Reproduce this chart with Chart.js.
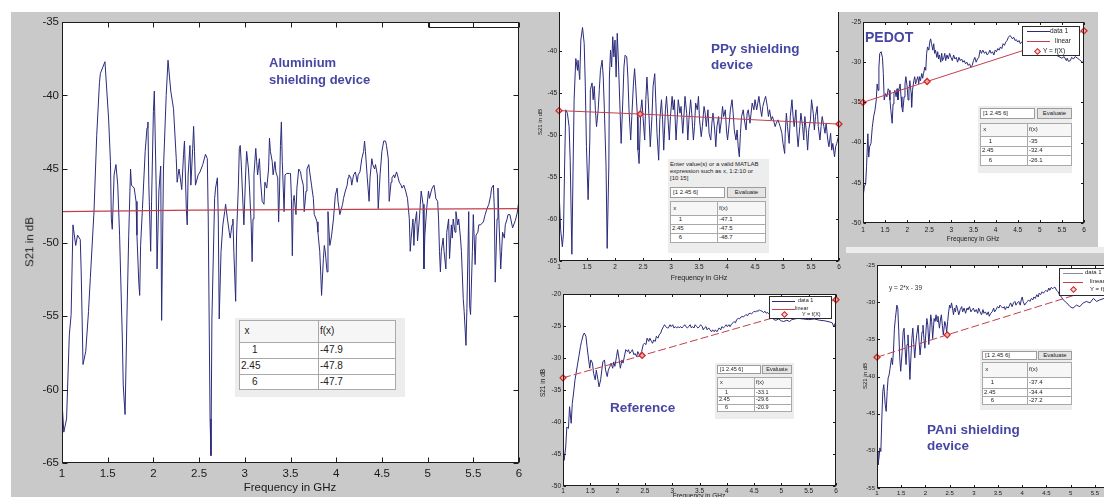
<!DOCTYPE html>
<html>
<head>
<meta charset="utf-8">
<title>S21 shielding measurements</title>
<script src="https://cdn.jsdelivr.net/npm/chart.js@4.4.1/dist/chart.umd.min.js"></script>
<style>
  html, body { margin: 0; padding: 0; background: #fff; }
  #page { position: relative; width: 1104px; height: 497px; overflow: hidden; background: #fff;
          font-family: "Liberation Sans", Arial, sans-serif; }
  .gray { position: absolute; background: #c9c9c9; z-index: 0; }
</style>
</head>
<body>
<div id="page">
  <div class="gray" style="left:11px;top:12px;width:511px;height:485px;"></div>
  <div class="gray" style="left:522px;top:12px;width:324px;height:485px;"></div>
  <div class="gray" style="left:846px;top:12px;width:252px;height:235px;"></div>
  <div class="gray" style="left:846px;top:247px;width:258px;height:6px;background:#ececec;"></div>
  <div class="gray" style="left:846px;top:253px;width:258px;height:244px;"></div>
</div>
<script>
// ---- shared tick values ----
const freqTicks = [1, 1.5, 2, 2.5, 3, 3.5, 4, 4.5, 5, 5.5, 6];
const aluminiumTicksY = [-65, -60, -55, -50, -45, -40, -35];
const ppyTicksY = [-65, -60, -55, -50, -45, -40];
const pedotTicksY = [-50, -45, -40, -35, -30, -25];
const referenceTicksY = [-50, -45, -40, -35, -30, -25, -20];
const paniTicksY = [-55, -50, -45, -40, -35, -30, -25];

// ---- linear fit evaluated at these frequencies (GHz) ----
const evalPoints = [1, 2.45, 6];
const aluminiumFit = [-47.9, -47.8, -47.7];
const ppyFit = [-47.1, -47.5, -48.7];
const pedotFit = [-35, -32.4, -26.1];
const referenceFit = [-33.1, -29.6, -20.9];
const paniFit = [-37.4, -34.4, -27.2];

// ---- measured S21 traces: [frequency GHz, S21 dB] ----
const aluminiumTrace = [
[1.00,-60.8],[1.02,-62.9],[1.05,-62.0],[1.08,-56.3],[1.10,-54.9],[1.12,-48.8],[1.15,-50.2],[1.17,-49.5],[1.20,-49.8],[1.21,-52.0],
[1.23,-58.3],[1.26,-57.4],[1.29,-54.7],[1.31,-52.4],[1.35,-47.9],[1.38,-42.7],[1.41,-39.1],[1.42,-38.5],[1.47,-37.7],[1.51,-41.6],
[1.53,-44.5],[1.54,-48.4],[1.55,-49.1],[1.57,-45.4],[1.59,-44.7],[1.61,-46.1],[1.63,-49.5],[1.66,-56.5],[1.67,-59.7],[1.69,-61.7],
[1.71,-55.2],[1.73,-49.5],[1.75,-45.0],[1.76,-46.1],[1.79,-46.3],[1.81,-47.2],[1.82,-49.5],[1.84,-52.7],[1.85,-53.6],[1.86,-50.2],
[1.88,-47.7],[1.91,-43.8],[1.93,-42.2],[1.94,-41.8],[1.95,-46.1],[1.97,-50.6],[1.98,-47.2],[2.00,-41.1],[2.01,-39.7],[2.03,-46.1],
[2.04,-51.8],[2.06,-46.5],[2.08,-44.8],[2.09,-55.3],[2.11,-45.0],[2.14,-40.0],[2.16,-37.6],[2.19,-39.7],[2.22,-40.9],[2.25,-44.3],
[2.26,-45.9],[2.28,-45.0],[2.29,-45.4],[2.31,-46.4],[2.33,-44.0],[2.34,-43.1],[2.36,-47.7],[2.37,-48.8],[2.38,-45.4],[2.40,-43.4],
[2.41,-46.1],[2.43,-43.6],[2.44,-42.1],[2.45,-43.8],[2.46,-46.1],[2.49,-45.4],[2.51,-45.2],[2.54,-44.7],[2.57,-44.0],[2.59,-44.3],
[2.60,-48.4],[2.62,-62.0],[2.63,-64.5],[2.64,-55.2],[2.67,-47.0],[2.68,-46.3],[2.70,-45.6],[2.71,-48.4],[2.72,-55.2],[2.74,-50.6],
[2.76,-48.8],[2.78,-47.9],[2.79,-47.4],[2.81,-48.4],[2.83,-49.3],[2.84,-49.7],[2.86,-48.8],[2.87,-48.4],[2.88,-50.6],[2.90,-54.0],
[2.91,-49.5],[2.93,-46.1],[2.94,-43.6],[2.95,-43.4],[2.96,-44.5],[2.98,-47.4],[2.99,-48.8],[3.01,-45.2],[3.02,-43.8],[3.04,-45.0],
[3.05,-46.1],[3.07,-48.8],[3.08,-51.3],[3.09,-48.4],[3.10,-45.4],[3.12,-43.6],[3.13,-44.5],[3.14,-45.4],[3.16,-44.3],[3.17,-45.6],
[3.19,-47.2],[3.21,-47.4],[3.22,-45.9],[3.24,-46.3],[3.26,-45.0],[3.27,-42.9],[3.28,-43.8],[3.30,-44.5],[3.31,-45.4],[3.33,-44.5],
[3.34,-45.2],[3.36,-45.6],[3.37,-48.6],[3.38,-46.5],[3.39,-43.4],[3.40,-41.8],[3.41,-44.5],[3.43,-47.9],[3.44,-45.4],[3.46,-45.3],
[3.49,-45.3],[3.50,-45.3],[3.51,-47.0],[3.52,-50.9],[3.53,-47.2],[3.54,-46.8],[3.56,-48.1],[3.57,-46.3],[3.59,-45.0],[3.61,-45.2],
[3.62,-45.6],[3.64,-46.1],[3.65,-47.9],[3.67,-46.5],[3.68,-45.0],[3.70,-44.7],[3.71,-45.2],[3.73,-46.1],[3.75,-47.0],[3.76,-48.1],
[3.78,-48.4],[3.79,-48.6],[3.80,-49.3],[3.82,-50.6],[3.83,-52.0],[3.84,-53.6],[3.86,-51.1],[3.87,-50.2],[3.88,-50.6],[3.90,-52.0],
[3.91,-47.9],[3.93,-50.2],[3.94,-49.9],[3.95,-49.5],[3.97,-48.4],[3.99,-46.8],[4.01,-46.3],[4.02,-47.2],[4.04,-48.1],[4.07,-47.4],
[4.08,-47.0],[4.10,-46.5],[4.12,-46.1],[4.13,-45.6],[4.14,-45.4],[4.16,-45.6],[4.17,-46.1],[4.19,-45.4],[4.21,-45.2],[4.23,-45.9],
[4.24,-45.4],[4.26,-45.2],[4.28,-44.3],[4.30,-43.8],[4.31,-43.1],[4.32,-43.8],[4.34,-45.6],[4.36,-47.2],[4.37,-45.6],[4.39,-44.3],
[4.40,-44.7],[4.42,-45.0],[4.43,-44.7],[4.45,-45.4],[4.46,-47.7],[4.48,-45.4],[4.50,-43.8],[4.52,-43.1],[4.54,-43.1],[4.55,-43.4],
[4.57,-44.3],[4.58,-47.2],[4.60,-45.9],[4.61,-45.6],[4.63,-45.4],[4.64,-45.6],[4.66,-45.2],[4.67,-45.4],[4.69,-45.9],[4.71,-46.1],
[4.72,-46.3],[4.74,-46.1],[4.76,-46.5],[4.78,-47.0],[4.80,-48.4],[4.81,-50.6],[4.82,-49.7],[4.84,-48.4],[4.85,-50.2],[4.86,-48.8],
[4.88,-47.9],[4.89,-49.9],[4.91,-48.4],[4.92,-47.4],[4.93,-46.5],[4.95,-47.4],[4.96,-51.8],[4.97,-49.5],[4.99,-47.7],[5.01,-46.5],
[5.02,-47.0],[5.04,-46.5],[5.05,-46.3],[5.07,-46.1],[5.08,-46.5],[5.09,-47.0],[5.11,-47.2],[5.12,-48.4],[5.13,-50.6],[5.14,-52.0],
[5.15,-50.6],[5.17,-49.7],[5.18,-50.6],[5.20,-51.8],[5.21,-49.3],[5.23,-48.4],[5.24,-51.1],[5.26,-48.8],[5.27,-49.7],[5.28,-48.4],
[5.30,-49.3],[5.31,-47.9],[5.33,-48.8],[5.34,-48.4],[5.36,-49.7],[5.37,-50.6],[5.39,-53.8],[5.40,-54.7],[5.42,-57.0],[5.43,-54.5],
[5.45,-47.9],[5.46,-54.3],[5.47,-54.9],[5.49,-50.6],[5.50,-48.1],[5.52,-51.5],[5.53,-49.5],[5.55,-49.3],[5.56,-48.8],[5.58,-48.8],
[5.61,-48.6],[5.63,-48.1],[5.65,-47.7],[5.67,-47.4],[5.69,-46.8],[5.70,-46.3],[5.72,-46.1],[5.73,-47.7],[5.74,-52.7],[5.76,-48.4],
[5.77,-46.3],[5.78,-48.4],[5.80,-51.8],[5.81,-50.6],[5.82,-49.3],[5.84,-49.7],[5.85,-48.8],[5.87,-48.4],[5.88,-48.1],[5.90,-48.1],
[5.93,-49.0],[5.96,-48.5],[5.98,-48.0],[6.00,-47.1]
];

const ppyTrace = [
[1.00,-56.5],[1.03,-61.3],[1.06,-63.3],[1.08,-61.7],[1.10,-53.7],[1.12,-47.0],[1.15,-47.4],[1.18,-49.0],[1.20,-53.0],[1.23,-64.2],
[1.25,-54.5],[1.27,-45.8],[1.30,-40.9],[1.33,-42.3],[1.34,-41.1],[1.37,-43.4],[1.39,-38.7],[1.42,-37.2],[1.45,-39.1],[1.47,-44.2],
[1.49,-51.4],[1.52,-57.7],[1.55,-50.6],[1.56,-44.6],[1.59,-43.8],[1.61,-45.8],[1.63,-44.2],[1.65,-47.0],[1.67,-49.0],[1.70,-47.0],
[1.72,-44.6],[1.74,-42.3],[1.77,-41.1],[1.79,-43.1],[1.81,-47.0],[1.84,-53.7],[1.86,-63.5],[1.89,-53.7],[1.90,-43.1],[1.92,-39.9],
[1.94,-41.9],[1.96,-38.3],[1.98,-40.7],[2.00,-38.7],[2.02,-43.1],[2.04,-37.9],[2.06,-41.1],[2.09,-47.0],[2.11,-51.0],[2.14,-45.8],
[2.16,-41.9],[2.18,-40.5],[2.21,-40.7],[2.23,-43.1],[2.25,-47.0],[2.28,-50.6],[2.30,-47.8],[2.33,-43.8],[2.35,-42.1],[2.37,-44.2],
[2.40,-47.8],[2.41,-51.8],[2.43,-53.4],[2.46,-47.0],[2.48,-45.8],[2.50,-47.8],[2.53,-50.6],[2.55,-45.8],[2.57,-43.1],[2.59,-45.4],
[2.61,-48.2],[2.63,-51.4],[2.66,-47.8],[2.68,-44.2],[2.71,-42.7],[2.73,-46.2],[2.75,-49.8],[2.78,-53.0],[2.80,-48.2],[2.83,-45.8],
[2.85,-48.2],[2.87,-51.8],[2.90,-47.0],[2.92,-45.4],[2.94,-47.4],[2.97,-50.6],[2.99,-47.8],[3.02,-45.4],[3.04,-47.0],[3.06,-45.8],
[3.09,-50.6],[3.11,-48.2],[3.13,-45.8],[3.16,-47.4],[3.18,-46.6],[3.21,-49.8],[3.23,-47.8],[3.25,-45.4],[3.28,-47.4],[3.30,-50.6],
[3.32,-48.2],[3.35,-45.8],[3.37,-47.4],[3.40,-50.6],[3.42,-49.0],[3.44,-46.2],[3.47,-47.0],[3.49,-45.4],[3.51,-48.2],[3.54,-50.2],
[3.56,-49.0],[3.59,-46.6],[3.61,-47.4],[3.63,-49.0],[3.66,-47.0],[3.68,-49.8],[3.71,-50.6],[3.73,-48.6],[3.75,-47.4],[3.78,-49.4],
[3.80,-51.4],[3.82,-49.0],[3.85,-47.8],[3.87,-49.8],[3.90,-48.2],[3.92,-46.6],[3.94,-47.8],[3.97,-47.0],[3.99,-49.4],[4.01,-50.6],
[4.04,-48.6],[4.06,-47.0],[4.09,-45.8],[4.11,-47.4],[4.13,-49.4],[4.16,-50.6],[4.18,-49.4],[4.20,-51.4],[4.22,-52.6],[4.24,-49.8],
[4.26,-47.8],[4.29,-47.0],[4.31,-48.2],[4.34,-49.4],[4.36,-47.4],[4.38,-47.0],[4.41,-48.6],[4.43,-47.4],[4.45,-46.2],[4.48,-47.0],
[4.50,-45.8],[4.53,-47.0],[4.55,-46.2],[4.57,-45.4],[4.60,-47.0],[4.62,-47.8],[4.64,-46.6],[4.67,-45.8],[4.69,-45.4],[4.72,-46.6],
[4.74,-47.8],[4.76,-47.0],[4.79,-48.2],[4.81,-47.8],[4.83,-48.2],[4.86,-49.0],[4.88,-48.6],[4.91,-48.2],[4.93,-48.6],[4.95,-49.0],
[4.98,-49.8],[5.00,-51.0],[5.03,-52.2],[5.04,-49.8],[5.06,-47.4],[5.08,-49.0],[5.11,-51.0],[5.13,-47.8],[5.16,-45.8],[5.18,-47.8],
[5.20,-49.0],[5.23,-47.0],[5.25,-49.8],[5.27,-51.4],[5.30,-49.0],[5.32,-47.4],[5.35,-49.0],[5.37,-50.6],[5.39,-47.8],[5.42,-49.8],
[5.44,-51.8],[5.46,-49.4],[5.49,-48.2],[5.51,-45.8],[5.54,-47.4],[5.56,-49.4],[5.58,-47.8],[5.61,-46.6],[5.63,-49.0],[5.66,-50.6],
[5.68,-49.0],[5.70,-47.8],[5.73,-49.0],[5.75,-49.8],[5.77,-48.6],[5.80,-50.6],[5.82,-51.4],[5.85,-49.8],[5.87,-51.8],[5.89,-51.0],
[5.92,-52.6],[5.94,-51.4],[5.96,-51.0],[5.99,-50.2],[6.00,-50.2]
];

const pedotTrace = [
[1.00,-46.8],[1.03,-45.5],[1.06,-45.1],[1.08,-43.0],[1.11,-38.9],[1.13,-41.8],[1.15,-40.5],[1.18,-40.1],[1.21,-38.1],[1.24,-36.8],
[1.27,-36.0],[1.30,-34.7],[1.32,-32.7],[1.34,-33.5],[1.36,-30.6],[1.38,-28.9],[1.41,-28.7],[1.44,-29.4],[1.46,-31.4],[1.48,-34.7],
[1.51,-33.9],[1.54,-34.3],[1.57,-33.3],[1.59,-33.5],[1.61,-34.7],[1.63,-36.0],[1.66,-37.6],[1.68,-35.2],[1.70,-33.9],[1.72,-33.5],
[1.75,-34.3],[1.77,-33.3],[1.79,-34.7],[1.81,-33.5],[1.84,-32.7],[1.86,-34.3],[1.88,-35.6],[1.90,-36.2],[1.93,-34.3],[1.95,-32.7],
[1.97,-31.8],[2.00,-33.1],[2.02,-34.7],[2.04,-33.5],[2.06,-32.3],[2.09,-33.9],[2.10,-35.6],[2.12,-33.5],[2.15,-32.3],[2.17,-31.8],
[2.19,-32.7],[2.21,-32.3],[2.24,-31.8],[2.26,-32.7],[2.28,-31.8],[2.30,-32.3],[2.33,-31.4],[2.35,-32.0],[2.37,-31.4],[2.40,-30.6],
[2.42,-31.0],[2.44,-28.9],[2.46,-28.1],[2.49,-28.5],[2.51,-27.5],[2.53,-27.1],[2.55,-27.7],[2.58,-28.5],[2.60,-27.7],[2.62,-28.9],
[2.64,-28.5],[2.67,-29.4],[2.69,-28.7],[2.71,-29.6],[2.73,-29.1],[2.76,-30.0],[2.78,-28.9],[2.80,-29.8],[2.83,-29.4],[2.85,-28.9],
[2.87,-29.8],[2.90,-29.1],[2.93,-29.6],[2.96,-28.9],[2.99,-29.4],[3.02,-29.8],[3.05,-29.1],[3.08,-29.6],[3.11,-29.4],[3.14,-30.0],
[3.17,-29.4],[3.20,-29.8],[3.23,-29.6],[3.26,-30.0],[3.29,-29.8],[3.32,-30.2],[3.35,-30.0],[3.38,-30.4],[3.41,-30.2],[3.44,-30.6],
[3.47,-30.4],[3.50,-29.8],[3.53,-29.4],[3.56,-30.0],[3.59,-29.6],[3.62,-29.4],[3.65,-28.5],[3.68,-28.9],[3.71,-28.5],[3.75,-28.9],
[3.78,-28.7],[3.81,-29.1],[3.84,-28.9],[3.87,-28.5],[3.90,-28.9],[3.93,-28.7],[3.96,-29.1],[3.99,-28.5],[4.02,-28.7],[4.05,-28.3],
[4.08,-28.5],[4.11,-28.1],[4.14,-28.3],[4.17,-27.7],[4.20,-27.9],[4.23,-27.5],[4.26,-27.3],[4.29,-26.9],[4.32,-26.7],[4.35,-26.8],
[4.38,-27.1],[4.41,-26.9],[4.44,-27.3],[4.47,-27.2],[4.50,-27.5],[4.53,-27.3],[4.56,-27.7],[4.59,-27.5],[4.61,-27.6],[4.65,-27.6],
[4.70,-27.8],[4.80,-28.0],[4.90,-28.2],[5.00,-28.4],[5.10,-28.6],[5.20,-28.8],[5.30,-29.0],[5.40,-29.2],[5.50,-29.5],[5.55,-29.3],
[5.60,-29.8],[5.62,-29.5],[5.65,-29.9],[5.69,-29.8],[5.72,-29.4],[5.76,-29.6],[5.80,-29.3],[5.85,-29.5],[5.90,-29.7],[5.94,-29.9],
[5.97,-30.1],[6.00,-29.5]
];

const referenceTrace = [
[1.00,-44.4],[1.02,-46.0],[1.05,-43.9],[1.07,-40.8],[1.10,-41.0],[1.12,-37.6],[1.15,-40.2],[1.17,-37.1],[1.20,-35.0],[1.22,-33.4],
[1.24,-32.4],[1.27,-30.8],[1.29,-29.8],[1.32,-28.2],[1.34,-27.4],[1.37,-26.4],[1.39,-26.1],[1.42,-26.6],[1.44,-28.2],[1.47,-30.3],
[1.49,-31.6],[1.51,-30.3],[1.54,-30.8],[1.56,-32.4],[1.59,-33.4],[1.61,-31.9],[1.64,-33.4],[1.66,-34.5],[1.69,-33.4],[1.71,-31.9],
[1.73,-30.6],[1.76,-30.3],[1.78,-31.9],[1.81,-32.9],[1.83,-31.9],[1.86,-31.3],[1.88,-30.8],[1.91,-31.6],[1.93,-30.6],[1.95,-31.3],
[1.98,-29.8],[2.00,-28.7],[2.03,-30.3],[2.05,-31.6],[2.08,-30.3],[2.10,-30.8],[2.13,-29.5],[2.15,-28.7],[2.18,-29.0],[2.20,-28.7],
[2.22,-29.3],[2.25,-29.0],[2.27,-28.7],[2.30,-29.5],[2.32,-29.3],[2.35,-29.8],[2.37,-29.0],[2.40,-29.5],[2.42,-29.3],[2.44,-29.0],
[2.47,-27.9],[2.49,-27.7],[2.52,-27.9],[2.54,-26.9],[2.57,-27.4],[2.59,-26.9],[2.62,-27.4],[2.64,-27.7],[2.66,-27.2],[2.69,-27.4],
[2.71,-26.6],[2.74,-26.9],[2.76,-26.4],[2.79,-26.1],[2.81,-25.6],[2.84,-25.1],[2.86,-24.8],[2.88,-25.1],[2.91,-25.3],[2.93,-25.3],
[2.96,-24.8],[2.98,-25.1],[3.01,-24.8],[3.03,-25.3],[3.06,-25.1],[3.08,-25.3],[3.11,-25.1],[3.13,-25.3],[3.15,-25.1],[3.18,-25.3],
[3.20,-25.1],[3.23,-24.8],[3.25,-25.1],[3.28,-25.3],[3.30,-25.1],[3.33,-24.8],[3.35,-25.3],[3.37,-25.1],[3.40,-25.3],[3.42,-24.8],
[3.45,-25.1],[3.47,-25.3],[3.50,-25.1],[3.52,-24.8],[3.55,-25.1],[3.57,-25.6],[3.59,-25.3],[3.62,-25.1],[3.64,-25.6],[3.67,-25.3],
[3.69,-25.6],[3.72,-25.9],[3.74,-25.6],[3.77,-25.9],[3.79,-25.6],[3.82,-25.9],[3.84,-25.6],[3.86,-25.3],[3.89,-25.6],[3.91,-25.1],
[3.94,-25.3],[3.96,-25.1],[3.99,-24.8],[4.01,-25.1],[4.04,-24.8],[4.06,-25.1],[4.08,-24.8],[4.11,-24.5],[4.13,-24.3],[4.16,-24.5],
[4.18,-24.0],[4.21,-23.8],[4.23,-23.9],[4.26,-23.6],[4.28,-23.5],[4.30,-23.6],[4.33,-23.4],[4.35,-23.2],[4.38,-23.4],[4.40,-23.1],
[4.43,-23.0],[4.45,-23.1],[4.48,-22.9],[4.50,-22.7],[4.53,-22.8],[4.55,-22.6],[4.57,-22.7],[4.60,-22.5],[4.62,-22.6],[4.65,-22.7],
[4.67,-22.9],[4.70,-22.7],[4.72,-23.0],[4.75,-22.9],[4.77,-23.1],[4.80,-23.2],[4.86,-24.0],[4.90,-24.1],[4.95,-23.9],[5.00,-24.2],
[5.04,-24.3],[5.10,-24.1],[5.15,-24.3],[5.19,-24.0],[5.30,-23.8],[5.40,-23.9],[5.50,-24.0],[5.60,-23.9],[5.70,-24.1],[5.80,-24.2],
[5.90,-24.4],[5.93,-24.5],[5.96,-25.1],[6.00,-24.3]
];

const paniTrace = [
[1.00,-50.1],[1.02,-51.9],[1.04,-51.0],[1.06,-49.6],[1.08,-50.1],[1.10,-45.6],[1.12,-42.0],[1.14,-41.1],[1.17,-43.8],[1.19,-44.7],
[1.21,-42.0],[1.23,-40.2],[1.25,-39.8],[1.27,-38.9],[1.30,-37.5],[1.32,-38.4],[1.34,-36.6],[1.36,-33.5],[1.38,-32.2],[1.41,-30.4],
[1.43,-30.8],[1.45,-34.0],[1.47,-37.5],[1.49,-39.3],[1.52,-36.6],[1.54,-34.0],[1.56,-33.5],[1.58,-36.2],[1.60,-38.4],[1.62,-35.7],
[1.64,-34.4],[1.66,-37.1],[1.68,-40.4],[1.70,-37.5],[1.72,-34.9],[1.74,-33.5],[1.76,-35.7],[1.78,-37.5],[1.80,-35.7],[1.82,-34.4],
[1.85,-33.1],[1.87,-35.3],[1.89,-37.1],[1.91,-35.7],[1.93,-34.0],[1.95,-33.1],[1.97,-34.9],[1.99,-36.2],[2.01,-34.0],[2.03,-32.2],
[2.05,-33.1],[2.07,-35.7],[2.09,-34.0],[2.11,-31.7],[2.13,-32.6],[2.15,-34.9],[2.18,-32.2],[2.20,-32.6],[2.22,-31.7],[2.24,-32.6],
[2.26,-31.9],[2.29,-33.5],[2.31,-32.4],[2.33,-31.7],[2.35,-33.1],[2.37,-34.4],[2.40,-32.6],[2.42,-33.1],[2.44,-34.0],[2.46,-32.6],
[2.48,-31.3],[2.50,-30.4],[2.52,-30.8],[2.54,-30.1],[2.56,-30.8],[2.58,-31.7],[2.60,-30.8],[2.62,-31.3],[2.64,-30.4],[2.66,-30.8],
[2.69,-31.7],[2.72,-31.0],[2.75,-30.6],[2.77,-31.3],[2.80,-30.8],[2.83,-31.5],[2.86,-30.8],[2.88,-31.0],[2.91,-30.6],[2.94,-31.3],
[2.97,-31.0],[2.99,-30.8],[3.02,-31.3],[3.05,-31.0],[3.08,-31.5],[3.10,-30.8],[3.13,-31.3],[3.16,-31.7],[3.19,-31.0],[3.21,-31.5],
[3.24,-31.3],[3.27,-31.7],[3.30,-31.3],[3.32,-31.9],[3.35,-31.5],[3.38,-31.3],[3.41,-30.8],[3.43,-31.3],[3.46,-31.0],[3.49,-30.6],
[3.52,-30.8],[3.54,-30.4],[3.57,-30.6],[3.60,-30.8],[3.63,-30.6],[3.65,-31.0],[3.68,-30.6],[3.71,-30.8],[3.74,-30.4],[3.76,-30.1],
[3.79,-30.6],[3.82,-30.1],[3.85,-29.9],[3.87,-30.4],[3.90,-30.1],[3.93,-29.9],[3.96,-30.4],[3.98,-29.7],[4.00,-29.3],[4.02,-29.9],
[4.05,-30.4],[4.08,-30.1],[4.11,-29.9],[4.13,-29.7],[4.16,-29.9],[4.19,-29.5],[4.22,-29.7],[4.24,-29.3],[4.27,-29.5],[4.30,-29.0],
[4.33,-29.3],[4.35,-28.8],[4.38,-29.0],[4.41,-28.6],[4.44,-28.8],[4.46,-28.6],[4.49,-28.4],[4.52,-28.6],[4.55,-28.1],[4.57,-28.4],
[4.60,-28.0],[4.63,-28.2],[4.66,-28.0],[4.68,-28.0],[4.71,-28.4],[4.74,-28.6],[4.77,-29.0],[4.81,-29.3],[4.85,-29.7],[4.92,-30.1],
[4.99,-30.6],[5.05,-30.8],[5.12,-30.4],[5.19,-30.6],[5.26,-30.1],[5.33,-29.9],[5.40,-30.1],[5.47,-29.5],[5.54,-29.9],[5.60,-29.7],
[5.69,-29.5],[5.75,-29.6],[5.85,-29.4],[5.95,-29.2],[6.00,-29.3]
];

// ---- drawing ----
const FONT = '"Liberation Sans", Arial, Helvetica, sans-serif';
const NAVY = '#2b2b7c';
const FIT_RED = '#c2404c';
const MARK_RED = '#d02828';
const TITLE_BLUE = '#4747a3';
const page = document.getElementById('page');
Chart.defaults.font.family = FONT;

// white axes background, box outline and inward tick marks on all four sides
const framePlugin = {
  id: 'frame',
  beforeDraw(chart) {
    const a = chart.chartArea, ctx = chart.ctx;
    ctx.save();
    ctx.fillStyle = '#ffffff';
    ctx.fillRect(a.left, a.top, a.right - a.left, a.bottom - a.top);
    ctx.restore();
  },
  afterDraw(chart, args, opts) {
    const a = chart.chartArea, ctx = chart.ctx, len = opts.len || 3;
    const L = Math.round(a.left) + 0.5, R = Math.round(a.right) - 0.5;
    const T = Math.round(a.top) + 0.5, B = Math.round(a.bottom) - 0.5;
    const sx = chart.scales.x, sy = chart.scales.y;
    ctx.save();
    ctx.strokeStyle = '#1c1c1c';
    ctx.lineWidth = 1;
    ctx.strokeRect(L, T, R - L, B - T);
    ctx.beginPath();
    sx.ticks.forEach(t => {
      const p = Math.round(sx.getPixelForValue(t.value)) + 0.5;
      ctx.moveTo(p, B); ctx.lineTo(p, B - len);
      ctx.moveTo(p, T); ctx.lineTo(p, T + len);
    });
    sy.ticks.forEach(t => {
      const p = Math.round(sy.getPixelForValue(t.value)) + 0.5;
      ctx.moveTo(L, p); ctx.lineTo(L + len, p);
      ctx.moveTo(R, p); ctx.lineTo(R - len, p);
    });
    ctx.stroke();
    ctx.restore();
  }
};

function traceSet(pairs, width) {
  return { data: pairs.map(p => ({ x: p[0], y: p[1] })), borderColor: NAVY, borderWidth: width || 1,
           pointRadius: 0, tension: 0, fill: false, order: 2 };
}
function fitSet(vals, dash, width) {
  return { data: evalPoints.map((x, i) => ({ x: x, y: vals[i] })), borderColor: FIT_RED,
           borderWidth: width || 1, borderDash: dash || [], pointRadius: 0, fill: false, order: 1 };
}
function markSet(vals, r) {
  return { data: evalPoints.map((x, i) => ({ x: x, y: vals[i] })), showLine: false, pointStyle: 'rectRot',
           pointRadius: r || 3, pointBorderWidth: 1.3, pointBorderColor: MARK_RED,
           pointBackgroundColor: 'rgba(245,170,170,0.9)', clip: false, order: 0 };
}

// places an axes box with its plot area at page coordinates l,t,r,b
function makePlot(o) {
  const yw = 44, xh = 24, padT = 12, padR = 12;
  const w = yw + (o.r - o.l) + padR, h = padT + (o.b - o.t) + xh;
  const cv = document.createElement('canvas');
  cv.width = w; cv.height = h;
  cv.style.cssText = `position:absolute;left:${o.l - yw}px;top:${o.t - padT}px;width:${w}px;height:${h}px;z-index:2;`;
  page.appendChild(cv);
  const tickFont = { family: FONT, size: o.fs };
  return new Chart(cv.getContext('2d'), {
    type: 'line',
    data: { datasets: o.datasets },
    options: {
      responsive: false, animation: false, events: [],
      layout: { autoPadding: false, padding: { left: 0, top: padT, right: padR, bottom: 0 } },
      plugins: { legend: { display: false }, tooltip: { enabled: false }, frame: { len: o.tickLen } },
      scales: {
        x: {
          type: 'linear', min: 1, max: 6,
          grid: { display: false, drawTicks: false }, border: { display: false },
          afterBuildTicks: s => { s.ticks = freqTicks.map(v => ({ value: v })); },
          afterFit: s => { s.height = xh; s.paddingLeft = 0; s.paddingRight = 0; },
          ticks: { font: tickFont, color: '#1a1a1a', padding: o.xPad, maxRotation: 0, minRotation: 0,
                   autoSkip: false, callback: v => String(v) }
        },
        y: {
          type: 'linear', min: o.yMin, max: o.yMax,
          grid: { display: false, drawTicks: false }, border: { display: false },
          afterBuildTicks: s => { s.ticks = o.yTicks.map(v => ({ value: v })); },
          afterFit: s => { s.width = yw; s.paddingTop = 0; s.paddingBottom = 0; },
          ticks: { font: tickFont, color: '#1a1a1a', padding: o.yPad, autoSkip: false, callback: v => String(v) }
        }
      }
    },
    plugins: [framePlugin]
  });
}

function el(css, text) {
  const d = document.createElement('div');
  d.style.cssText = 'position:absolute;white-space:pre;' + css;
  if (text != null) d.textContent = text;
  page.appendChild(d);
  return d;
}
function title(x, y, size, lh, text) {
  el(`left:${x}px;top:${y}px;font:bold ${size}px ${FONT};line-height:${lh}px;color:${TITLE_BLUE};z-index:6;`, text);
}
function yTitle(cx, cy, size, text) {
  el(`left:${cx}px;top:${cy}px;font:${size}px ${FONT};line-height:1;color:#1a1a1a;z-index:5;transform:translate(-50%,-50%) rotate(-90deg);`, text);
}
function xTitle(cx, cy, size, text) {
  el(`left:${cx}px;top:${cy}px;font:${size}px ${FONT};line-height:1;color:#1a1a1a;z-index:5;transform:translate(-50%,-50%);`, text);
}
function fmtX(v) { return Number.isInteger(v) ? '\u2007\u2007' + v : String(v); }

// "Evaluate" box with its x / f(x) table
function evalTable(t, fx) {
  const [bl, bt, br, bb] = t.bg;
  el(`left:${bl}px;top:${bt}px;width:${br - bl}px;height:${bb - bt}px;background:#ededed;z-index:5;`);
  if (t.prompt) {
    t.prompt.forEach((s, i) => el(`left:${t.left}px;top:${t.promptTop + i * t.promptLh}px;font:${t.fs}px ${FONT};line-height:${t.promptLh}px;color:#222;z-index:6;`, s));
  }
  if (t.input) {
    const [l, tp, r, b] = t.input;
    el(`left:${l}px;top:${tp}px;width:${r - l - 2}px;height:${b - tp - 2}px;background:#fff;border:1px solid #9c9c9c;font:${t.fs}px ${FONT};line-height:${b - tp - 2}px;padding-left:2px;box-sizing:content-box;color:#222;z-index:6;`, '[1 2.45 6]');
    const [l2, t2, r2, b2] = t.button;
    el(`left:${l2}px;top:${t2}px;width:${r2 - l2 - 2}px;height:${b2 - t2 - 2}px;background:#e4e4e4;border:1px solid #9c9c9c;font:${t.fs}px ${FONT};line-height:${b2 - t2 - 2}px;text-align:center;color:#222;z-index:6;`, 'Evaluate');
  }
  const r = t.rows, L = t.left, R = t.right, C = t.col;
  el(`left:${L}px;top:${r[0]}px;width:${R - L}px;height:${r[4] - r[0]}px;background:#fff;z-index:6;`);
  el(`left:${L}px;top:${r[0]}px;width:${R - L}px;height:${r[1] - r[0]}px;background:#f6f6f6;z-index:6;`);
  r.forEach(y => el(`left:${L}px;top:${y}px;width:${R - L}px;height:1px;background:#a9a9a9;z-index:7;`));
  [L, C, R - 1].forEach(x => el(`left:${x}px;top:${r[0]}px;width:1px;height:${r[4] - r[0]}px;background:#a9a9a9;z-index:7;`));
  const cell = (x, y0, y1, s) => el(`left:${x}px;top:${y0}px;height:${y1 - y0}px;font:${t.fs}px ${FONT};line-height:${y1 - y0}px;color:#222;z-index:8;`, s);
  cell(L + t.fs * 0.55, r[0], r[1], 'x');
  cell(C + 2, r[0], r[1], 'f(x)');
  evalPoints.forEach((x, i) => {
    cell(L + 2, r[i + 1], r[i + 2], fmtX(x));
    cell(C + 2, r[i + 1], r[i + 2], String(fx[i]));
  });
}

// boxed legend: data line, linear fit line, evaluated points
function legend(g) {
  const [l, t, r, b] = g.box;
  el(`left:${l}px;top:${t}px;width:${r - l - 2}px;height:${b - t - 2}px;background:#fff;border:1px solid #2a2a2a;z-index:6;`);
  g.items.forEach(it => {
    if (it.line) el(`left:${it.x0}px;top:${it.y}px;width:${it.x1 - it.x0}px;height:0;border-top:1px solid ${it.line};z-index:7;`);
    if (it.mark) el(`left:${it.mark - 2.5}px;top:${it.y - 2.5}px;width:3px;height:3px;border:1.2px solid ${MARK_RED};transform:rotate(45deg);background:#f8dada;z-index:7;`);
    el(`left:${it.tx}px;top:${it.y - g.fs * 0.6}px;font:${g.fs}px ${FONT};line-height:${g.fs * 1.2}px;color:#222;z-index:7;`, it.text);
  });
}

// ---------- Aluminium ----------
makePlot({ l: 62, t: 22, r: 519, b: 463, yMin: -65, yMax: -35, yTicks: aluminiumTicksY,
  fs: 11.5, xPad: 4, yPad: 3, tickLen: 5,
  datasets: [traceSet(aluminiumTrace), fitSet(aluminiumFit, [], 1.2)] });
yTitle(30, 242, 11.5, 'S21 in dB');
xTitle(290, 488, 11.5, 'Frequency in GHz');
title(269, 54, 13, 17, 'Aluminium\nshielding device');
el('left:429px;top:22px;width:88px;height:5px;border-left:1px solid #1c1c1c;border-bottom:1px solid #1c1c1c;z-index:5;');
evalTable({ bg: [235, 318, 405, 397], left: 239, right: 396, col: 318, rows: [320, 342, 358, 373.5, 389], fs: 10 }, aluminiumFit);

// ---------- PPy ----------
makePlot({ l: 559, t: 9, r: 839, b: 261, yMin: -65, yMax: -35, yTicks: ppyTicksY,
  fs: 6.5, xPad: 2, yPad: 2, tickLen: 2.5,
  datasets: [traceSet(ppyTrace), fitSet(ppyFit), markSet(ppyFit)] });
yTitle(540, 122, 6, 'S21 in dB');
xTitle(699, 276.5, 7, 'Frequency in GHz');
title(711, 41, 13.5, 16, 'PPy shielding\ndevice');
evalTable({ bg: [668, 159, 769, 253], left: 670, right: 766, col: 717, rows: [201, 215, 224, 233, 242], fs: 6,
  prompt: ['Enter value(s) or a valid MATLAB', 'expression such as x, 1:2:10 or', '[10 15]'], promptTop: 160.5, promptLh: 7.3,
  input: [670, 187, 723, 198], button: [727, 187, 766, 198] }, ppyFit);

// ---------- PEDOT ----------
makePlot({ l: 863, t: 22, r: 1084, b: 223, yMin: -50, yMax: -25, yTicks: pedotTicksY,
  fs: 6.5, xPad: 3, yPad: 2, tickLen: 2.5,
  datasets: [traceSet(pedotTrace), fitSet(pedotFit), markSet(pedotFit)] });
xTitle(973, 239, 6.5, 'Frequency in GHz');
title(865, 29, 14, 16, 'PEDOT');
evalTable({ bg: [978, 106, 1072, 173], left: 980, right: 1072, col: 1027, rows: [123, 136, 146, 155, 165], fs: 6,
  input: [980, 108, 1033, 119], button: [1037, 108, 1072, 119] }, pedotFit);
legend({ box: [1022, 26, 1080, 56], fs: 6.5, items: [
  { y: 30.5, line: NAVY, x0: 1027, x1: 1050, tx: 1050, text: 'data 1' },
  { y: 41, line: FIT_RED, x0: 1027, x1: 1050, tx: 1055, text: 'linear' },
  { y: 51, mark: 1037, tx: 1043, text: 'Y = f(X)' } ] });

// ---------- Reference ----------
makePlot({ l: 563, t: 294, r: 836, b: 486, yMin: -50, yMax: -20, yTicks: referenceTicksY,
  fs: 6.5, xPad: 1, yPad: 2, tickLen: 2.5,
  datasets: [traceSet(referenceTrace), fitSet(referenceFit, [8, 3]), markSet(referenceFit)] });
yTitle(543, 383, 6.5, 'S21 in dB');
xTitle(699, 496, 6.5, 'Frequency in GHz');
title(610, 400, 13.5, 16, 'Reference');
evalTable({ bg: [715, 363, 794, 419], left: 717, right: 792, col: 754, rows: [377, 388, 396, 403.5, 411], fs: 5.5,
  input: [717, 365, 759, 374], button: [762, 365, 792, 374] }, referenceFit);
legend({ box: [769, 296, 832, 319], fs: 5.5, items: [
  { y: 300.5, line: NAVY, x0: 772, x1: 795, tx: 798, text: 'data 1' },
  { y: 308.5, line: FIT_RED, x0: 772, x1: 795, tx: 795, text: 'linear' },
  { y: 314.5, mark: 784, tx: 802, text: 'Y = f(X)' } ] });

// ---------- PAni ----------
makePlot({ l: 877, t: 265, r: 1119, b: 488, yMin: -55, yMax: -25, yTicks: paniTicksY,
  fs: 6, xPad: 2, yPad: 2, tickLen: 2.5,
  datasets: [traceSet(paniTrace), fitSet(paniFit, [8, 3]), markSet(paniFit)] });
yTitle(865, 376, 6, 'S21 in dB');
title(927, 422, 13.5, 16, 'PAni shielding\ndevice');
el(`left:889px;top:284px;font:6.5px ${FONT};line-height:7px;color:#333;z-index:6;`, 'y = 2*x - 39');
evalTable({ bg: [980, 349, 1072, 410], left: 982, right: 1072, col: 1027, rows: [362, 377, 388, 396, 404], fs: 6,
  input: [982, 351, 1035, 360], button: [1038, 351, 1072, 360] }, paniFit);
legend({ box: [1059, 268, 1118, 296], fs: 6, items: [
  { y: 272.5, line: '#8a8a9a', x0: 1063, x1: 1083, tx: 1085, text: 'data 1' },
  { y: 281.5, line: FIT_RED, x0: 1063, x1: 1083, tx: 1090, text: 'linear' },
  { y: 289.5, mark: 1073, tx: 1090, text: 'Y = f(X)' } ] });

// white margin along the top edge
el('left:0;top:0;width:1104px;height:12px;background:#fff;z-index:9;');
</script>
</body>
</html>
